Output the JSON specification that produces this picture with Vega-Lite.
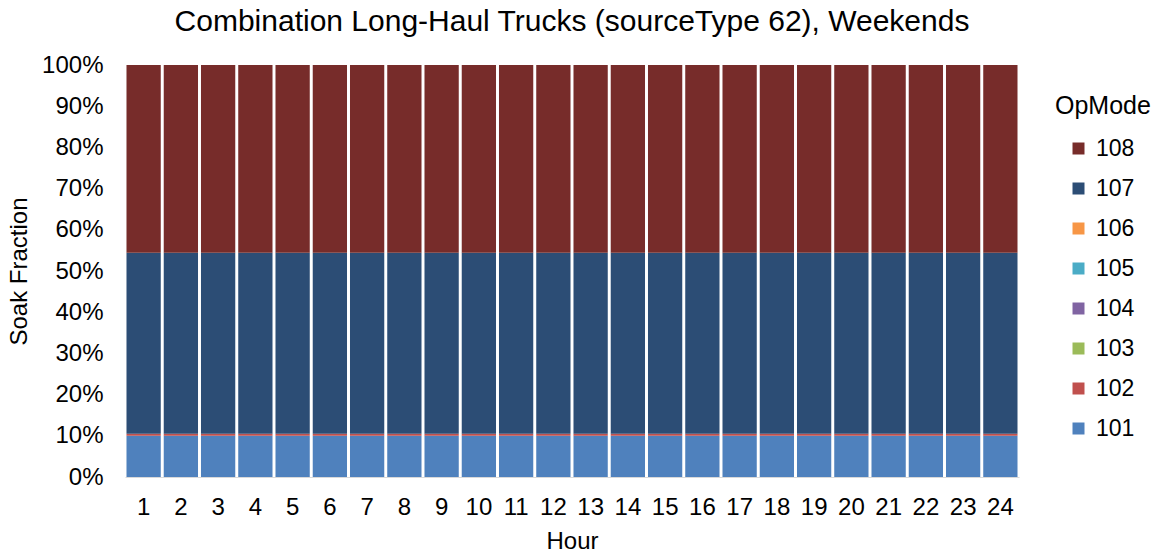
{
  "$schema": "https://vega.github.io/schema/vega-lite/v6.json",
  "width": 894,
  "height": 412,
  "autosize": {"type": "none"},
  "padding": {"left": 125, "top": 65, "right": 141, "bottom": 75},
  "background": "white",
  "config": {
    "font": "Liberation Sans",
    "view": {"stroke": null}
  },
  "title": {
    "text": "Combination Long-Haul Trucks (sourceType 62), Weekends",
    "fontSize": 30,
    "fontWeight": "normal",
    "color": "#000000",
    "anchor": "middle",
    "offset": 16
  },
  "data": {
    "values": [
      {"Hour": 1, "OpMode": "101", "Fraction": 0.100}, {"Hour": 1, "OpMode": "102", "Fraction": 0.005}, {"Hour": 1, "OpMode": "107", "Fraction": 0.439}, {"Hour": 1, "OpMode": "108", "Fraction": 0.456},
      {"Hour": 2, "OpMode": "101", "Fraction": 0.100}, {"Hour": 2, "OpMode": "102", "Fraction": 0.005}, {"Hour": 2, "OpMode": "107", "Fraction": 0.439}, {"Hour": 2, "OpMode": "108", "Fraction": 0.456},
      {"Hour": 3, "OpMode": "101", "Fraction": 0.100}, {"Hour": 3, "OpMode": "102", "Fraction": 0.005}, {"Hour": 3, "OpMode": "107", "Fraction": 0.439}, {"Hour": 3, "OpMode": "108", "Fraction": 0.456},
      {"Hour": 4, "OpMode": "101", "Fraction": 0.100}, {"Hour": 4, "OpMode": "102", "Fraction": 0.005}, {"Hour": 4, "OpMode": "107", "Fraction": 0.439}, {"Hour": 4, "OpMode": "108", "Fraction": 0.456},
      {"Hour": 5, "OpMode": "101", "Fraction": 0.100}, {"Hour": 5, "OpMode": "102", "Fraction": 0.005}, {"Hour": 5, "OpMode": "107", "Fraction": 0.439}, {"Hour": 5, "OpMode": "108", "Fraction": 0.456},
      {"Hour": 6, "OpMode": "101", "Fraction": 0.100}, {"Hour": 6, "OpMode": "102", "Fraction": 0.005}, {"Hour": 6, "OpMode": "107", "Fraction": 0.439}, {"Hour": 6, "OpMode": "108", "Fraction": 0.456},
      {"Hour": 7, "OpMode": "101", "Fraction": 0.100}, {"Hour": 7, "OpMode": "102", "Fraction": 0.005}, {"Hour": 7, "OpMode": "107", "Fraction": 0.439}, {"Hour": 7, "OpMode": "108", "Fraction": 0.456},
      {"Hour": 8, "OpMode": "101", "Fraction": 0.100}, {"Hour": 8, "OpMode": "102", "Fraction": 0.005}, {"Hour": 8, "OpMode": "107", "Fraction": 0.439}, {"Hour": 8, "OpMode": "108", "Fraction": 0.456},
      {"Hour": 9, "OpMode": "101", "Fraction": 0.100}, {"Hour": 9, "OpMode": "102", "Fraction": 0.005}, {"Hour": 9, "OpMode": "107", "Fraction": 0.439}, {"Hour": 9, "OpMode": "108", "Fraction": 0.456},
      {"Hour": 10, "OpMode": "101", "Fraction": 0.100}, {"Hour": 10, "OpMode": "102", "Fraction": 0.005}, {"Hour": 10, "OpMode": "107", "Fraction": 0.439}, {"Hour": 10, "OpMode": "108", "Fraction": 0.456},
      {"Hour": 11, "OpMode": "101", "Fraction": 0.100}, {"Hour": 11, "OpMode": "102", "Fraction": 0.005}, {"Hour": 11, "OpMode": "107", "Fraction": 0.439}, {"Hour": 11, "OpMode": "108", "Fraction": 0.456},
      {"Hour": 12, "OpMode": "101", "Fraction": 0.100}, {"Hour": 12, "OpMode": "102", "Fraction": 0.005}, {"Hour": 12, "OpMode": "107", "Fraction": 0.439}, {"Hour": 12, "OpMode": "108", "Fraction": 0.456},
      {"Hour": 13, "OpMode": "101", "Fraction": 0.100}, {"Hour": 13, "OpMode": "102", "Fraction": 0.005}, {"Hour": 13, "OpMode": "107", "Fraction": 0.439}, {"Hour": 13, "OpMode": "108", "Fraction": 0.456},
      {"Hour": 14, "OpMode": "101", "Fraction": 0.100}, {"Hour": 14, "OpMode": "102", "Fraction": 0.005}, {"Hour": 14, "OpMode": "107", "Fraction": 0.439}, {"Hour": 14, "OpMode": "108", "Fraction": 0.456},
      {"Hour": 15, "OpMode": "101", "Fraction": 0.100}, {"Hour": 15, "OpMode": "102", "Fraction": 0.005}, {"Hour": 15, "OpMode": "107", "Fraction": 0.439}, {"Hour": 15, "OpMode": "108", "Fraction": 0.456},
      {"Hour": 16, "OpMode": "101", "Fraction": 0.100}, {"Hour": 16, "OpMode": "102", "Fraction": 0.005}, {"Hour": 16, "OpMode": "107", "Fraction": 0.439}, {"Hour": 16, "OpMode": "108", "Fraction": 0.456},
      {"Hour": 17, "OpMode": "101", "Fraction": 0.100}, {"Hour": 17, "OpMode": "102", "Fraction": 0.005}, {"Hour": 17, "OpMode": "107", "Fraction": 0.439}, {"Hour": 17, "OpMode": "108", "Fraction": 0.456},
      {"Hour": 18, "OpMode": "101", "Fraction": 0.100}, {"Hour": 18, "OpMode": "102", "Fraction": 0.005}, {"Hour": 18, "OpMode": "107", "Fraction": 0.439}, {"Hour": 18, "OpMode": "108", "Fraction": 0.456},
      {"Hour": 19, "OpMode": "101", "Fraction": 0.100}, {"Hour": 19, "OpMode": "102", "Fraction": 0.005}, {"Hour": 19, "OpMode": "107", "Fraction": 0.439}, {"Hour": 19, "OpMode": "108", "Fraction": 0.456},
      {"Hour": 20, "OpMode": "101", "Fraction": 0.100}, {"Hour": 20, "OpMode": "102", "Fraction": 0.005}, {"Hour": 20, "OpMode": "107", "Fraction": 0.439}, {"Hour": 20, "OpMode": "108", "Fraction": 0.456},
      {"Hour": 21, "OpMode": "101", "Fraction": 0.100}, {"Hour": 21, "OpMode": "102", "Fraction": 0.005}, {"Hour": 21, "OpMode": "107", "Fraction": 0.439}, {"Hour": 21, "OpMode": "108", "Fraction": 0.456},
      {"Hour": 22, "OpMode": "101", "Fraction": 0.100}, {"Hour": 22, "OpMode": "102", "Fraction": 0.005}, {"Hour": 22, "OpMode": "107", "Fraction": 0.439}, {"Hour": 22, "OpMode": "108", "Fraction": 0.456},
      {"Hour": 23, "OpMode": "101", "Fraction": 0.100}, {"Hour": 23, "OpMode": "102", "Fraction": 0.005}, {"Hour": 23, "OpMode": "107", "Fraction": 0.439}, {"Hour": 23, "OpMode": "108", "Fraction": 0.456},
      {"Hour": 24, "OpMode": "101", "Fraction": 0.100}, {"Hour": 24, "OpMode": "102", "Fraction": 0.005}, {"Hour": 24, "OpMode": "107", "Fraction": 0.439}, {"Hour": 24, "OpMode": "108", "Fraction": 0.456}
    ]
  },
  "mark": {"type": "bar"},
  "encoding": {
    "x": {
      "field": "Hour",
      "type": "ordinal",
      "scale": {"paddingInner": 0.08, "paddingOuter": 0.04},
      "axis": {
        "title": "Hour",
        "labelAngle": 0,
        "labelFontSize": 24,
        "labelColor": "#000000",
        "labelPadding": 18,
        "titleFontSize": 24,
        "titleFontWeight": "normal",
        "titleColor": "#000000",
        "titlePadding": 10,
        "ticks": false,
        "domain": true,
        "domainColor": "#d9d9d9"
      }
    },
    "y": {
      "field": "Fraction",
      "type": "quantitative",
      "stack": "zero",
      "scale": {"domain": [0, 1]},
      "axis": {
        "title": "Soak Fraction",
        "format": ".0%",
        "values": [0, 0.1, 0.2, 0.3, 0.4, 0.5, 0.6, 0.7, 0.8, 0.9, 1],
        "labelFontSize": 24,
        "labelColor": "#000000",
        "labelPadding": 22,
        "titleFontSize": 24,
        "titleFontWeight": "normal",
        "titleColor": "#000000",
        "titlePadding": 10,
        "ticks": false,
        "domain": false,
        "grid": false
      }
    },
    "color": {
      "field": "OpMode",
      "type": "nominal",
      "scale": {
        "domain": ["108", "107", "106", "105", "104", "103", "102", "101"],
        "range": ["#772C2A", "#2C4D75", "#F79646", "#4BACC6", "#8064A2", "#9BBB59", "#C0504D", "#4F81BD"]
      },
      "legend": {
        "title": "OpMode",
        "orient": "none",
        "legendX": 930,
        "legendY": 29,
        "titleFontSize": 25,
        "titleFontWeight": "normal",
        "titleColor": "#000000",
        "titlePadding": 18,
        "labelFontSize": 23,
        "labelColor": "#000000",
        "labelOffset": 6,
        "symbolType": "square",
        "symbolSize": 144,
        "symbolStrokeWidth": 0,
        "symbolOffset": 12,
        "rowPadding": 16
      }
    },
    "order": {"field": "OpMode", "type": "nominal", "sort": "ascending"}
  }
}
